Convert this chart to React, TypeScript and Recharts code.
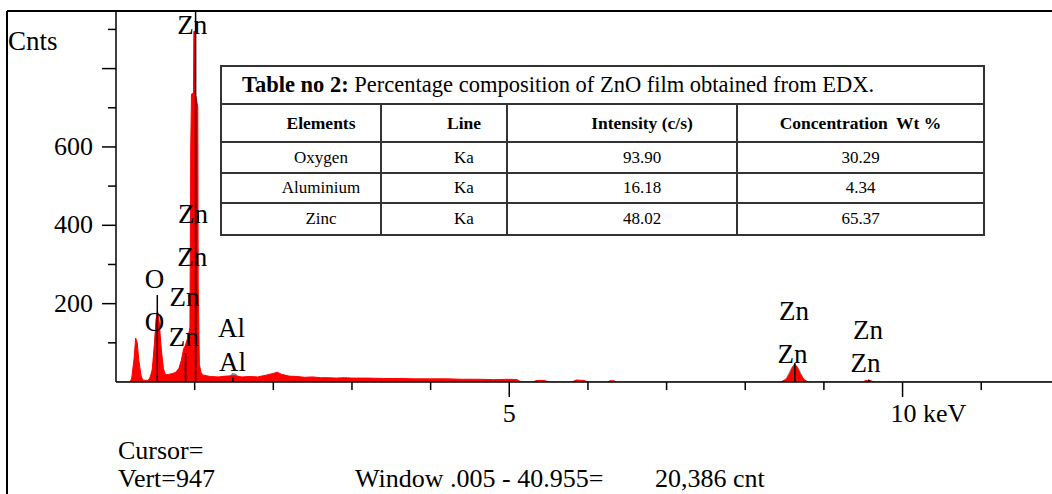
import React from "react";
import { ComposedChart, Area, Scatter, XAxis, YAxis, ReferenceLine } from "recharts";

const SERIF = "'Liberation Serif', 'Times New Roman', serif";

// measured spectrum, [energy keV, counts]
const spectrum: [number, number][] = [
  [0, 0], [0.18, 0], [0.2, 10], [0.23, 60], [0.25, 112], [0.27, 100], [0.29, 55], [0.32, 15],
  [0.34, 5], [0.4, 4], [0.43, 10], [0.46, 30], [0.49, 100], [0.51, 160], [0.53, 178], [0.55, 150],
  [0.57, 95], [0.6, 35], [0.63, 18], [0.68, 20], [0.72, 22], [0.76, 25], [0.8, 35], [0.83, 55],
  [0.86, 85], [0.88, 92], [0.9, 105], [0.92, 118], [0.94, 140], [0.95, 600], [0.96, 735],
  [0.985, 738], [0.99, 895], [1.005, 895], [1.01, 735], [1.04, 702], [1.045, 250], [1.06, 45],
  [1.08, 25], [1.1, 18], [1.2, 14], [1.3, 13], [1.4, 15], [1.5, 16], [1.6, 13], [1.7, 14],
  [1.8, 13], [1.9, 17], [2.0, 22], [2.05, 25], [2.1, 20], [2.2, 15], [2.3, 14], [2.4, 12],
  [2.5, 13], [2.6, 11], [2.7, 11], [2.8, 10], [2.9, 11], [3.0, 10], [3.2, 10], [3.4, 9],
  [3.6, 9], [3.8, 8], [4.0, 8], [4.2, 8], [4.4, 7], [4.6, 7], [4.8, 6], [5.0, 7], [5.1, 6],
  [5.15, 0], [5.3, 0], [5.35, 4], [5.45, 4], [5.5, 0], [5.8, 0], [5.85, 5], [5.95, 4], [6.0, 0],
  [6.25, 0], [6.28, 3], [6.33, 3], [6.36, 0], [8.45, 0], [8.52, 6], [8.57, 22], [8.61, 40],
  [8.63, 44], [8.66, 38], [8.7, 20], [8.75, 5], [8.8, 0], [9.5, 0], [9.53, 4], [9.6, 4],
  [9.62, 0], [11.9, 0],
];

// fitted peak envelopes (grey)
const fitted: [number, number][] = [
  [0, 0], [0.4, 0], [0.44, 12], [0.47, 50], [0.5, 150], [0.525, 192], [0.55, 165], [0.58, 80],
  [0.62, 20], [0.66, 0], [1.4, 0], [1.44, 14], [1.48, 23], [1.52, 22], [1.57, 12], [1.62, 0],
  [8.45, 0], [8.52, 10], [8.58, 35], [8.63, 49], [8.68, 35], [8.74, 10], [8.8, 0],
  [9.5, 0], [9.57, 6], [9.64, 0], [11.9, 0],
];

// element line markers [energy keV, height]
const markers: [number, number][] = [
  [0.525, 222], [0.884, 74], [1.012, 947], [1.486, 13], [8.63, 48], [9.57, 6],
];

// peak labels [energy, counts, text]
const peakLabels: [number, number, string][] = [
  [0.97, 911, "Zn"], [0.98, 429, "Zn"], [0.97, 319, "Zn"], [0.49, 263, "O"],
  [0.87, 217, "Zn"], [0.49, 153, "O"], [0.86, 115, "Zn"], [1.47, 138, "Al"],
  [1.48, 51, "Al"], [8.62, 182, "Zn"], [8.6, 72, "Zn"], [9.56, 133, "Zn"], [9.53, 49, "Zn"],
];

const energyTicks = [1, 2, 3, 4, 5, 6, 7, 8, 9, 10, 11];
const energyLabels: Record<number, string> = { 5: "5", 10: "10 keV" };
const countTicks = [100, 200, 300, 400, 500, 600, 700, 800, 900];
const countLabels = [200, 400, 600];

const tableHeader = ["Elements", "Line", "Intensity (c/s)", "Concentration  Wt %"];
const tableRows = [
  ["Oxygen", "Ka", "93.90", "30.29"],
  ["Aluminium", "Ka", "16.18", "4.34"],
  ["Zinc", "Ka", "48.02", "65.37"],
];

const toPoints = (rows: [number, number][]) => rows.map(([e, c]) => ({ e, c }));

const EnergyTick = ({ x, y, payload }: any) => {
  const v = payload.value;
  const label = energyLabels[v];
  return (
    <g>
      <line x1={x} x2={x} y1={y} y2={y + (v % 5 === 0 ? 15 : 8)} stroke="#000" strokeWidth={1.5} />
      {label && (
        <text
          x={v === 10 ? x - 12 : x}
          y={y + 40}
          textAnchor={v === 10 ? "start" : "middle"}
          fontFamily={SERIF}
          fontSize={26}
          fill="#000"
        >
          {label}
        </text>
      )}
    </g>
  );
};

const CountTick = ({ x, y, payload }: any) => {
  const v = payload.value;
  return (
    <g>
      <line x1={x - (v % 200 === 0 ? 14 : 8)} x2={x} y1={y} y2={y} stroke="#000" strokeWidth={1.5} />
      {countLabels.includes(v) && (
        <text x={x - 23} y={y + 8} textAnchor="end" fontFamily={SERIF} fontSize={26} fill="#000">
          {v}
        </text>
      )}
    </g>
  );
};

const PeakLabel = (props: any) => (
  <text
    x={props.cx}
    y={props.cy + 9}
    textAnchor="middle"
    fontFamily={SERIF}
    fontSize={27}
    fill="#000"
  >
    {props.payload.t}
  </text>
);

const cell: React.CSSProperties = {
  border: "2px solid #333",
  textAlign: "center",
  padding: 0,
  fontSize: 17,
  fontFamily: SERIF,
};

export default function App() {
  const labelData = peakLabels.map(([e, c, t]) => ({ e, c, t }));
  return (
    <div style={{ position: "absolute", left: 0, top: 0, width: 1052, height: 494, background: "#fff", overflow: "hidden" }}>
      <ComposedChart width={1052} height={494} margin={{ top: 11, right: 0, bottom: 0, left: 0 }}>
        <XAxis
          dataKey="e"
          type="number"
          domain={[0, 11.9]}
          ticks={energyTicks}
          allowDataOverflow
          height={112}
          stroke="#000"
          strokeWidth={1.5}
          tickLine={false}
          tickSize={0}
          tickMargin={0}
          tick={<EnergyTick />}
        />
        <YAxis
          type="number"
          domain={[0, 947]}
          ticks={countTicks}
          allowDataOverflow
          width={116}
          stroke="#000"
          strokeWidth={1.5}
          tickLine={false}
          tickSize={0}
          tickMargin={0}
          tick={<CountTick />}
        />
        <Area
          data={toPoints(fitted)}
          dataKey="c"
          type="linear"
          stroke="none"
          fill="#8c8c8c"
          fillOpacity={1}
          isAnimationActive={false}
        />
        <Area
          data={toPoints(spectrum)}
          dataKey="c"
          type="linear"
          stroke="#ff0000"
          strokeWidth={1}
          fill="#ff0000"
          fillOpacity={1}
          isAnimationActive={false}
        />
        {markers.map(([e, h], i) => (
          <ReferenceLine
            key={i}
            segment={[{ x: e, y: 0 }, { x: e, y: h }]}
            stroke="#000"
            strokeWidth={1.5}
          />
        ))}
        <Scatter data={labelData} dataKey="c" shape={<PeakLabel />} isAnimationActive={false} />
      </ComposedChart>

      <svg width={1052} height={494} style={{ position: "absolute", left: 0, top: 0, pointerEvents: "none" }}>
        <line x1={7} x2={1052} y1={11} y2={11} stroke="#000" strokeWidth={2} />
        <line x1={7} x2={7} y1={11} y2={494} stroke="#000" strokeWidth={2} />
        <g fontFamily={SERIF} fill="#000">
          <text x={8} y={50} fontSize={27}>Cnts</text>
          <text x={118} y={459} fontSize={26}>Cursor=</text>
          <text x={118} y={487} fontSize={26}>Vert=947</text>
          <text x={355} y={487} fontSize={26}>Window .005 - 40.955=</text>
          <text x={655} y={487} fontSize={26}>20,386 cnt</text>
        </g>
      </svg>

      <table
        style={{
          position: "absolute",
          left: 220,
          top: 65,
          width: 763,
          borderCollapse: "collapse",
          tableLayout: "fixed",
          background: "#fff",
          fontFamily: SERIF,
          color: "#000",
        }}
      >
        <colgroup>
          <col style={{ width: 160 }} />
          <col style={{ width: 126 }} />
          <col style={{ width: 230 }} />
          <col style={{ width: 247 }} />
        </colgroup>
        <tbody>
          <tr style={{ height: 38 }}>
            <td colSpan={4} style={{ ...cell, textAlign: "left", paddingLeft: 20, fontSize: 22.5 }}>
              <b>Table no 2:</b> Percentage composition of ZnO film obtained from EDX.
            </td>
          </tr>
          <tr style={{ height: 38 }}>
            {tableHeader.map((h, i) => (
              <td key={h} style={{ ...cell, fontSize: 17.5, fontWeight: "bold", paddingLeft: i < 3 ? 40 : 0, whiteSpace: "pre" }}>
                {h}
              </td>
            ))}
          </tr>
          {tableRows.map((row, r) => (
            <tr key={r} style={{ height: [31, 30, 32][r] }}>
              {row.map((v, i) => (
                <td key={i} style={{ ...cell, paddingLeft: i < 3 ? 40 : 0 }}>
                  {v}
                </td>
              ))}
            </tr>
          ))}
        </tbody>
      </table>
    </div>
  );
}
